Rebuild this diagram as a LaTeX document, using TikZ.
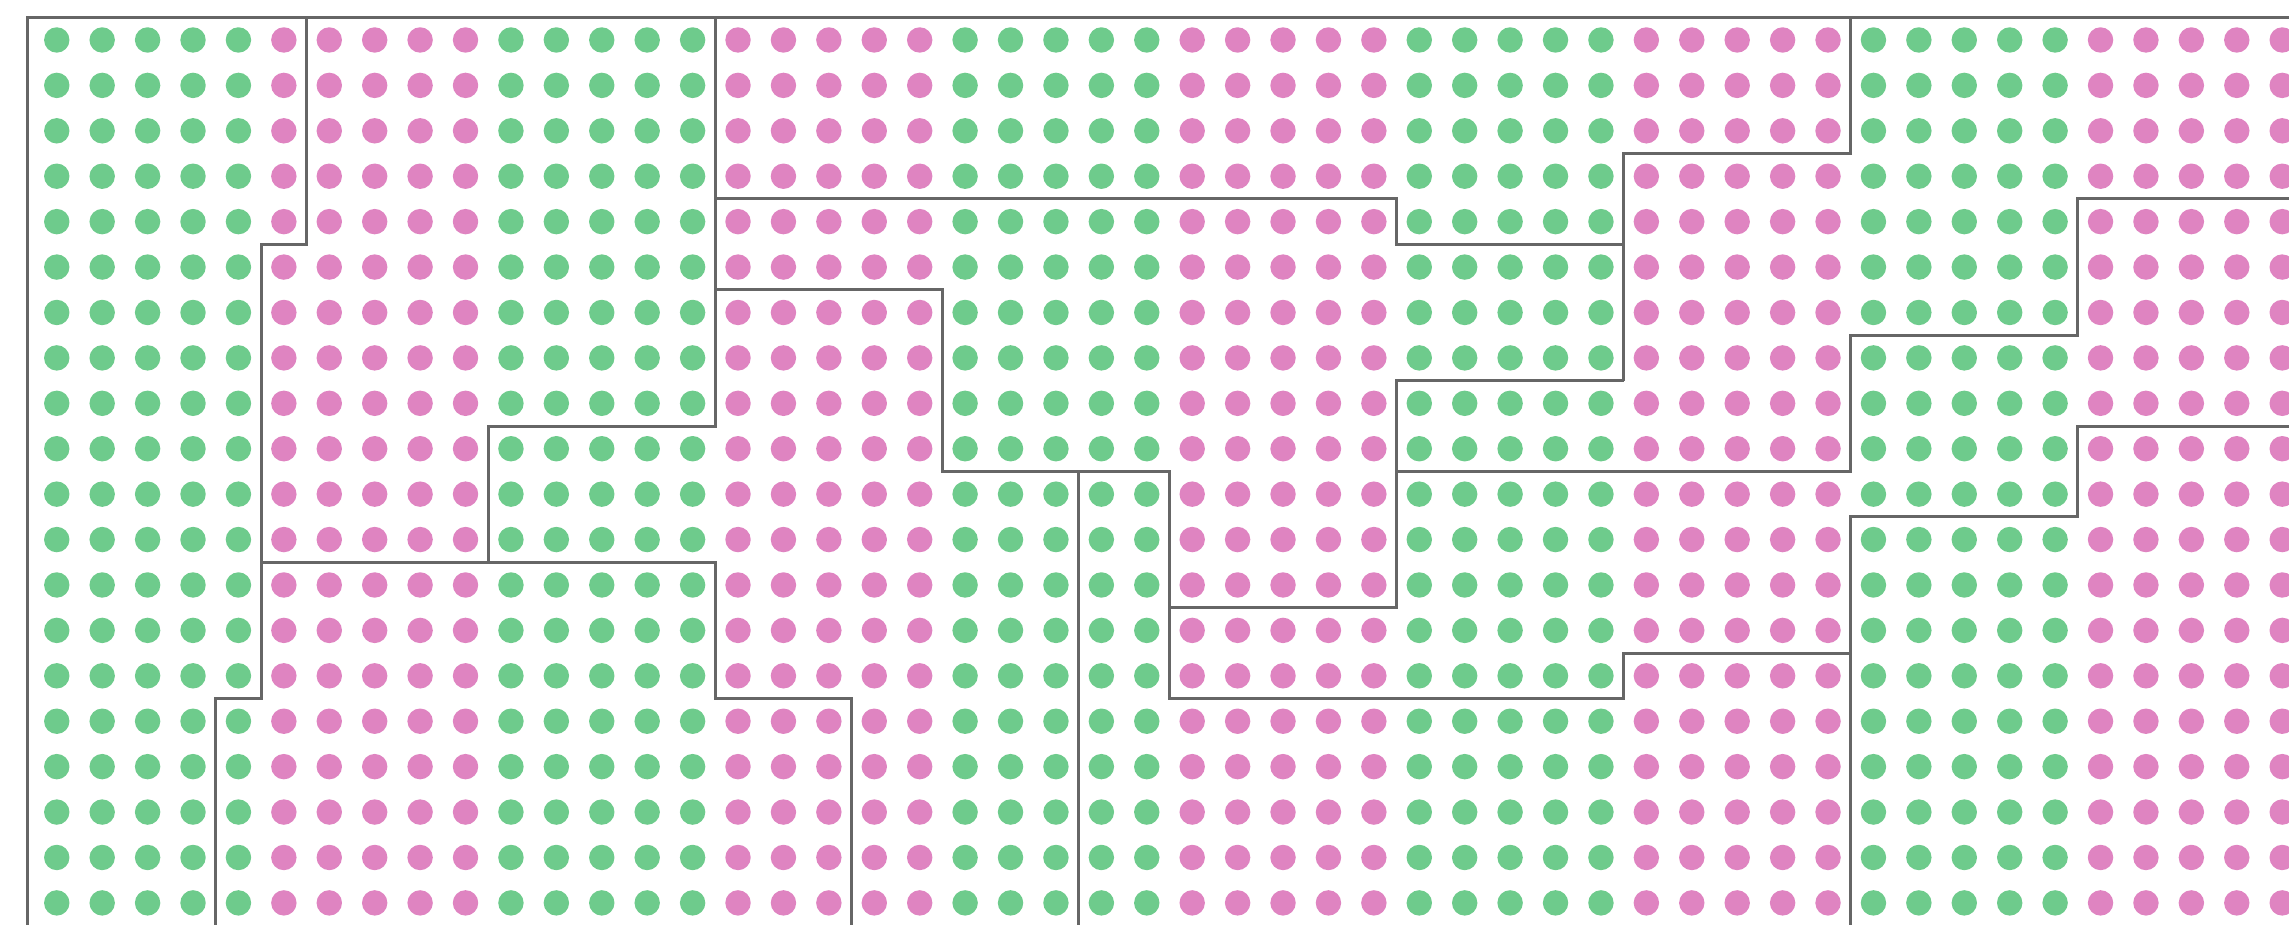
\documentclass[tikz,border=0pt]{standalone}
\usepackage{tikz}
\usepackage{xcolor}
\definecolor{dotgreen}{RGB}{110,203,140}
\definecolor{dotpink}{RGB}{223,132,193}

\begin{document}
\begin{tikzpicture}[x=0.5cm, y=0.5cm,
    fence/.style={line width=0.95pt, draw=black!60}]
  \useasboundingbox (-1.25,0.88) rectangle (49.15,-19.48);
  \clip (-1.25,0.88) rectangle (49.15,-19.48);
  % dots, colour changes every five columns
  \foreach \x in {0,...,49} {
    \pgfmathtruncatemacro{\band}{mod(floor(\x/5),2)}
    \ifnum\band=0 \def\dotcol{dotgreen}\else \def\dotcol{dotpink}\fi
    \foreach \y in {0,...,19}
      \fill[\dotcol] (\x,-\y) circle (0.28);
  }
  % outer frame
  \draw[fence] (-0.65,-20) -- (-0.65,0.5) -- (50,0.5);
  % region borders, left part
  \draw[fence] (5.5,0.5) -- (5.5,-4.5) -- (4.5,-4.5) -- (4.5,-14.5) -- (3.5,-14.5) -- (3.5,-20);
  \draw[fence] (14.5,0.5) -- (14.5,-8.5) -- (9.5,-8.5) -- (9.5,-11.5);
  \draw[fence] (4.5,-11.5) -- (14.5,-11.5) -- (14.5,-14.5) -- (17.5,-14.5) -- (17.5,-20);
  % middle part
  \draw[fence] (14.5,-3.5) -- (29.5,-3.5) -- (29.5,-4.5) -- (34.5,-4.5);
  \draw[fence] (34.5,-7.5) -- (34.5,-2.5) -- (39.5,-2.5) -- (39.5,0.5);
  \draw[fence] (14.5,-5.5) -- (19.5,-5.5) -- (19.5,-9.5) -- (24.5,-9.5) -- (24.5,-14.5)
    -- (34.5,-14.5) -- (34.5,-13.5) -- (39.5,-13.5);
  \draw[fence] (22.5,-9.5) -- (22.5,-20);
  \draw[fence] (24.5,-12.5) -- (29.5,-12.5) -- (29.5,-7.5) -- (34.5,-7.5);
  % right part
  \draw[fence] (29.5,-9.5) -- (39.5,-9.5) -- (39.5,-6.5) -- (44.5,-6.5) -- (44.5,-3.5) -- (50,-3.5);
  \draw[fence] (39.5,-20) -- (39.5,-10.5) -- (44.5,-10.5) -- (44.5,-8.5) -- (50,-8.5);
\end{tikzpicture}
\end{document}
